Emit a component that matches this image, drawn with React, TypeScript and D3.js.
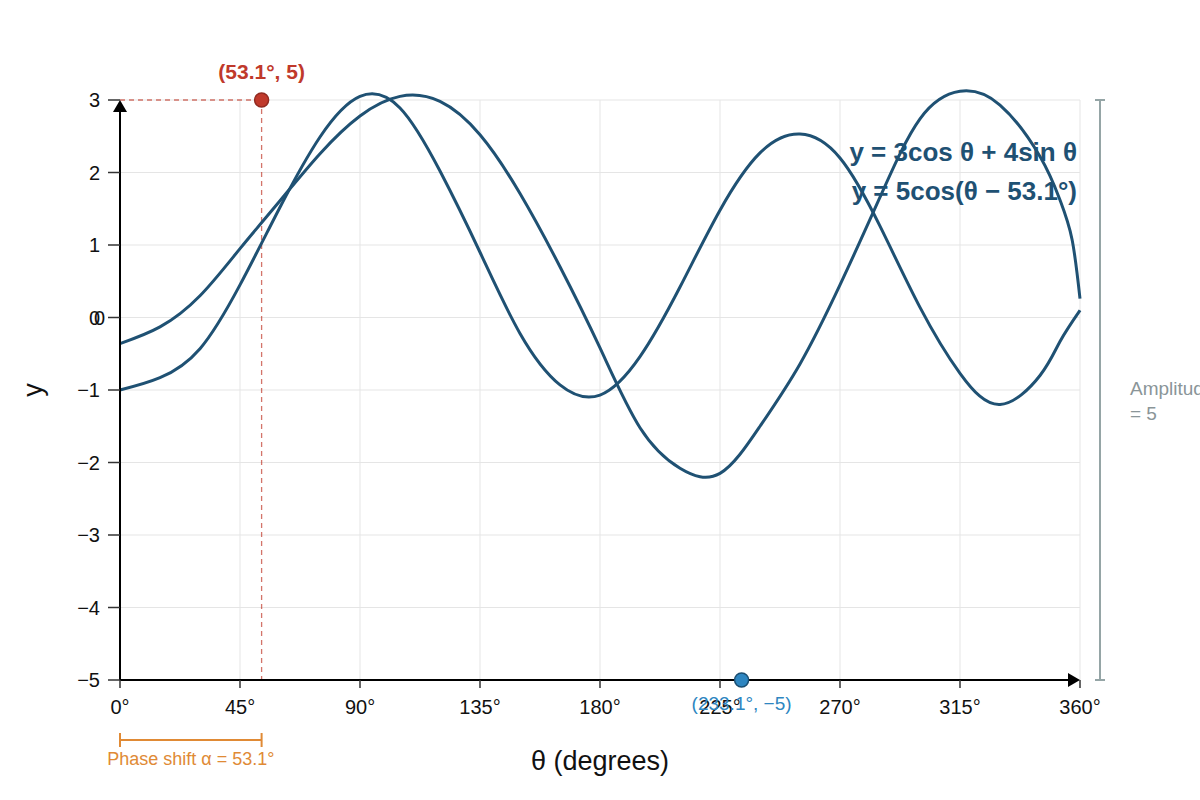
import React from 'react'
import * as d3 from 'd3'

const xTicks = [0, 45, 90, 135, 180, 225, 270, 315, 360]
const yTicks = [-5, -4, -3, -2, -1, 0, 1, 2, 3]

// curve that starts at -1 (sharper first peak), read every 15°
const curveA: [number, number][] = [
    [0, -1.0], [15, -0.83], [30, -0.43], [45, 0.45], [60, 1.52], [75, 2.49],
    [90, 3.05], [105, 2.89], [120, 2.02], [135, 0.9], [150, -0.22], [165, -0.93],
    [180, -1.07], [195, -0.54], [210, 0.42], [225, 1.48], [240, 2.27], [255, 2.53],
    [270, 2.2], [285, 1.26], [300, 0.14], [315, -0.77], [330, -1.2], [345, -0.8],
    [352.5, -0.33], [360, 0.1],
]

// curve that starts at -0.36 (wider first peak)
const curveB: [number, number][] = [
    [0, -0.36], [15, -0.13], [30, 0.3], [45, 0.95], [60, 1.61], [75, 2.26],
    [90, 2.78], [105, 3.05], [120, 2.98], [135, 2.52], [150, 1.71], [165, 0.7],
    [180, -0.42], [195, -1.52], [210, -2.08], [225, -2.15], [240, -1.5], [255, -0.64],
    [270, 0.45], [285, 1.66], [300, 2.74], [315, 3.12], [330, 2.93], [345, 2.22],
    [352.5, 1.62], [357, 1.08], [360, 0.26],
]

const maxPoint = { t: 53.1, y: 3, label: '(53.1°, 5)' }
const minPoint = { t: 233.1, y: -5, label: '(233.1°, −5)' }
const equations = ['y = 3cos θ + 4sin θ', 'y = 5cos(θ − 53.1°)']

const width = 1200
const height = 800
const margin = { left: 120, right: 120, top: 100, bottom: 120 }
const font = '"Liberation Sans", Arial, sans-serif'
const lineColor = '#1f5173'

const App = () => {
    const x = d3.scaleLinear().domain([0, 360]).range([margin.left, width - margin.right])
    const y = d3.scaleLinear().domain([-5, 3]).range([height - margin.bottom, margin.top])
    const line = d3.line<[number, number]>()
        .x(d => x(d[0]))
        .y(d => y(d[1]))
        .curve(d3.curveNatural)

    const x0 = x(0), x1 = x(360), y0 = y(-5), y1 = y(3)

    return (
        <svg width={width} height={height} style={{ position: 'absolute', left: 0, top: 0, fontFamily: font }}>
            <rect width={width} height={height} fill="#fff" />
            {/* grid */}
            {xTicks.map(t => (
                <line key={'gx' + t} x1={x(t)} x2={x(t)} y1={y1} y2={y0} stroke="#e5e5e5" strokeWidth={1} />
            ))}
            {yTicks.map(t => (
                <line key={'gy' + t} x1={x0} x2={x1} y1={y(t)} y2={y(t)} stroke="#e5e5e5" strokeWidth={1} />
            ))}

            {/* max point guides */}
            <line x1={x0} x2={x(maxPoint.t)} y1={y(maxPoint.y)} y2={y(maxPoint.y)} stroke="#c0392b" strokeOpacity={0.7} strokeDasharray="5,4" strokeWidth={1.3} />
            <line x1={x(maxPoint.t)} x2={x(maxPoint.t)} y1={y(maxPoint.y)} y2={y0} stroke="#c0392b" strokeOpacity={0.7} strokeDasharray="5,4" strokeWidth={1.3} />

            {/* curves */}
            <path d={line(curveA) || ''} fill="none" stroke={lineColor} strokeWidth={3} />
            <path d={line(curveB) || ''} fill="none" stroke={lineColor} strokeWidth={3} />

            {/* axes */}
            <line x1={x0} x2={x1 - 10} y1={y0} y2={y0} stroke="#000" strokeWidth={2} />
            <path d={`M${x1},${y0} L${x1 - 12},${y0 - 7} L${x1 - 12},${y0 + 7} Z`} fill="#000" />
            <line x1={x0} x2={x0} y1={y0} y2={y1 + 10} stroke="#000" strokeWidth={2} />
            <path d={`M${x0},${y1} L${x0 - 7},${y1 + 12} L${x0 + 7},${y1 + 12} Z`} fill="#000" />

            {xTicks.map(t => (
                <g key={'tx' + t}>
                    <line x1={x(t)} x2={x(t)} y1={y0} y2={y0 + 8} stroke="#333" strokeWidth={1.5} />
                    <text x={x(t)} y={y0 + 34} textAnchor="middle" fontSize={20} fill="#111">{t}°</text>
                </g>
            ))}
            {yTicks.map(t => (
                <g key={'ty' + t}>
                    <line x1={x0 - 12} x2={x0} y1={y(t)} y2={y(t)} stroke="#333" strokeWidth={1.5} />
                    <text x={x0 - 20} y={y(t) + 7} textAnchor="end" fontSize={20} fill="#111">{t < 0 ? '−' + Math.abs(t) : t}</text>
                </g>
            ))}
            <text x={x0 - 15} y={y(0) + 7} textAnchor="end" fontSize={20} fill="#111">0</text>

            {/* axis titles */}
            <text x={(x0 + x1) / 2} y={770} textAnchor="middle" fontSize={27} fill="#111">θ (degrees)</text>
            <text transform={`translate(42,${(y0 + y1) / 2}) rotate(-90)`} textAnchor="middle" fontSize={27} fill="#111">y</text>

            {/* points */}
            <circle cx={x(maxPoint.t)} cy={y(maxPoint.y)} r={7} fill="#c0392b" stroke="#922b21" strokeWidth={1.5} />
            <text x={x(maxPoint.t)} y={y(maxPoint.y) - 21} textAnchor="middle" fontSize={21} fontWeight="bold" fill="#c0392b">{maxPoint.label}</text>
            <circle cx={x(minPoint.t)} cy={y(minPoint.y)} r={7} fill="#2e86c1" stroke="#1b4f72" strokeWidth={1.5} />
            <text x={x(minPoint.t)} y={y(minPoint.y) + 30} textAnchor="middle" fontSize={19} fill="#2e86c1">{minPoint.label}</text>

            {/* equations */}
            {equations.map((e, i) => (
                <text key={e} x={1077} y={161 + i * 39} textAnchor="end" fontSize={26} fontWeight="bold" fill={lineColor}>{e}</text>
            ))}

            {/* amplitude bracket */}
            <line x1={1100} x2={1100} y1={y1} y2={y0} stroke="#95a5a6" strokeWidth={2} />
            <line x1={1095} x2={1105} y1={y1} y2={y1} stroke="#95a5a6" strokeWidth={2} />
            <line x1={1095} x2={1105} y1={y0} y2={y0} stroke="#95a5a6" strokeWidth={2} />
            <text x={1130} y={395} fontSize={19} fill="#8a9598">Amplitude</text>
            <text x={1130} y={420} fontSize={19} fill="#8a9598">= 5</text>

            {/* phase shift bracket */}
            <line x1={x0} x2={x(maxPoint.t)} y1={740} y2={740} stroke="#e08a35" strokeWidth={2} />
            <line x1={x0} x2={x0} y1={733} y2={747} stroke="#e08a35" strokeWidth={2} />
            <line x1={x(maxPoint.t)} x2={x(maxPoint.t)} y1={733} y2={747} stroke="#e08a35" strokeWidth={2} />
            <text x={(x0 + x(maxPoint.t)) / 2} y={765} textAnchor="middle" fontSize={18} fill="#e08a35">Phase shift α = 53.1°</text>
        </svg>
    )
}

export default App
